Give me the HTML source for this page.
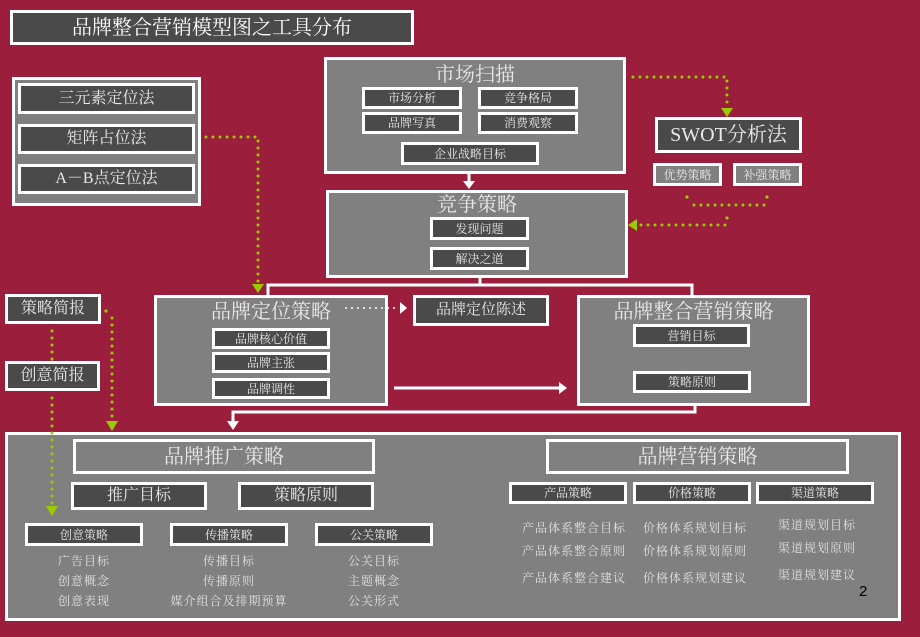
<!DOCTYPE html>
<html><head><meta charset="utf-8"><style>
*{margin:0;padding:0}
body{width:920px;height:637px;background:#9b1f3c;position:relative;overflow:hidden;font-family:"Liberation Serif","Noto Serif CJK SC","Noto Sans CJK SC",serif;}
.b{position:absolute;box-sizing:border-box;border:3px solid #fff;display:flex;align-items:center;justify-content:center;color:#e8e8e8;white-space:nowrap;line-height:1;}
.g{background:#808080}
.d{background:#4a4a4a}
.t{position:absolute;color:#e0e0e0;white-space:nowrap;font-size:12px;letter-spacing:1px}
.c{transform:translateX(-50%)}
.top{align-items:flex-start}
svg{position:absolute;left:0;top:0}
</style></head><body>
<div class="b d" style="left:10px;top:10px;width:404px;height:35px;font-size:20px;color:#fff">品牌整合营销模型图之工具分布</div>

<div class="b g" style="left:12px;top:77px;width:189px;height:129px"></div>
<div class="b d" style="left:18px;top:83px;width:177px;height:31px;font-size:16px">三元素定位法</div>
<div class="b d" style="left:18px;top:124px;width:177px;height:30px;font-size:16px">矩阵占位法</div>
<div class="b d" style="left:18px;top:164px;width:177px;height:30px;font-size:16px">A－B点定位法</div>

<div class="b g top" style="left:324px;top:57px;width:302px;height:117px;font-size:20px;padding-top:5px">市场扫描</div>
<div class="b d" style="left:362px;top:87px;width:100px;height:22px;font-size:12px">市场分析</div>
<div class="b d" style="left:478px;top:87px;width:100px;height:22px;font-size:12px">竞争格局</div>
<div class="b d" style="left:362px;top:112px;width:100px;height:22px;font-size:12px">品牌写真</div>
<div class="b d" style="left:478px;top:112px;width:100px;height:22px;font-size:12px">消费观察</div>
<div class="b d" style="left:401px;top:142px;width:138px;height:23px;font-size:12px">企业战略目标</div>

<div class="b g top" style="left:326px;top:190px;width:302px;height:88px;font-size:20px;padding-top:2px">竞争策略</div>
<div class="b d" style="left:430px;top:217px;width:99px;height:23px;font-size:12px">发现问题</div>
<div class="b d" style="left:430px;top:247px;width:99px;height:23px;font-size:12px">解决之道</div>

<div class="b d" style="left:655px;top:117px;width:147px;height:36px;font-size:20px">SWOT分析法</div>
<div class="b g" style="left:653px;top:163px;width:69px;height:23px;font-size:12px">优势策略</div>
<div class="b g" style="left:733px;top:163px;width:69px;height:23px;font-size:12px">补强策略</div>

<div class="b d" style="left:5px;top:294px;width:96px;height:30px;font-size:16px">策略简报</div>
<div class="b d" style="left:5px;top:361px;width:95px;height:30px;font-size:16px">创意简报</div>

<div class="b g top" style="left:154px;top:295px;width:234px;height:111px;font-size:20px;padding-top:4px">品牌定位策略</div>
<div class="b d" style="left:212px;top:328px;width:118px;height:21px;font-size:12px">品牌核心价值</div>
<div class="b d" style="left:212px;top:352px;width:118px;height:21px;font-size:12px">品牌主张</div>
<div class="b d" style="left:212px;top:378px;width:118px;height:21px;font-size:12px">品牌调性</div>

<div class="b d" style="left:413px;top:295px;width:136px;height:31px;font-size:15px">品牌定位陈述</div>

<div class="b g top" style="left:577px;top:295px;width:233px;height:111px;font-size:20px;padding-top:4px">品牌整合营销策略</div>
<div class="b d" style="left:633px;top:324px;width:117px;height:23px;font-size:12px">营销目标</div>
<div class="b d" style="left:633px;top:371px;width:118px;height:22px;font-size:12px">策略原则</div>

<div class="b g" style="left:5px;top:432px;width:896px;height:189px"></div>
<div class="b g" style="left:73px;top:439px;width:302px;height:35px;font-size:20px">品牌推广策略</div>
<div class="b d" style="left:71px;top:482px;width:136px;height:28px;font-size:16px">推广目标</div>
<div class="b d" style="left:238px;top:482px;width:136px;height:28px;font-size:16px">策略原则</div>
<div class="b d" style="left:25px;top:523px;width:118px;height:23px;font-size:12px">创意策略</div>
<div class="b d" style="left:170px;top:523px;width:118px;height:23px;font-size:12px">传播策略</div>
<div class="b d" style="left:315px;top:523px;width:118px;height:23px;font-size:12px">公关策略</div>
<div class="t c" style="left:84px;top:552px">广告目标</div>
<div class="t c" style="left:84px;top:572px">创意概念</div>
<div class="t c" style="left:84px;top:592px">创意表现</div>
<div class="t c" style="left:229px;top:552px">传播目标</div>
<div class="t c" style="left:229px;top:572px">传播原则</div>
<div class="t c" style="left:229px;top:592px">媒介组合及排期预算</div>
<div class="t c" style="left:374px;top:552px">公关目标</div>
<div class="t c" style="left:374px;top:572px">主题概念</div>
<div class="t c" style="left:374px;top:592px">公关形式</div>

<div class="b g" style="left:546px;top:439px;width:303px;height:35px;font-size:20px">品牌营销策略</div>
<div class="b d" style="left:509px;top:482px;width:118px;height:22px;font-size:12px">产品策略</div>
<div class="b d" style="left:633px;top:482px;width:118px;height:22px;font-size:12px">价格策略</div>
<div class="b d" style="left:756px;top:482px;width:118px;height:22px;font-size:12px">渠道策略</div>
<div class="t" style="left:522px;top:519px">产品体系整合目标</div>
<div class="t" style="left:522px;top:542px">产品体系整合原则</div>
<div class="t" style="left:522px;top:569px">产品体系整合建议</div>
<div class="t" style="left:643px;top:519px">价格体系规划目标</div>
<div class="t" style="left:643px;top:542px">价格体系规划原则</div>
<div class="t" style="left:643px;top:569px">价格体系规划建议</div>
<div class="t" style="left:778px;top:516px">渠道规划目标</div>
<div class="t" style="left:778px;top:539px">渠道规划原则</div>
<div class="t" style="left:778px;top:566px">渠道规划建议</div>
<div style="position:absolute;left:859px;top:583px;font-family:'Liberation Sans',sans-serif;font-size:15px;color:#000">2</div>

<svg width="920" height="637" viewBox="0 0 920 637">
<g fill="none" stroke="#99cc00" stroke-width="3" stroke-dasharray="0 7" stroke-linecap="round">
<path d="M633 77 H727 V108"/>
<path d="M694 205 H767"/>
<path d="M725 225 H640"/>
<path d="M206 137 H258 V283"/>
<path d="M52 331 V360"/>
<path d="M52 398 V508"/>
<path d="M112 318 V420"/>
</g>
<g fill="#99cc00">
<circle cx="687" cy="197" r="1.6"/><circle cx="767" cy="197" r="1.6"/><circle cx="727" cy="218" r="1.6"/><circle cx="106" cy="311" r="1.6"/>
<path d="M721 108 H733 L727 117Z"/>
<path d="M637 219 V231 L628 225Z"/>
<path d="M252 284 H264 L258 293Z"/>
<path d="M46 506 H58 L52 516Z"/>
<path d="M106 421 H118 L112 431Z"/>
</g>
<g stroke="#fff" stroke-width="3" fill="none">
<path d="M469 173 V182"/>
<path d="M480 277 V285 M268 295 V285 H692 V295"/>
<path d="M394 388 H560"/>
<path d="M695 406 V412 H233 V422"/>
</g>
<path d="M346 308 H400" stroke="#fff" stroke-width="2" stroke-dasharray="0 6" stroke-linecap="round"/>
<g fill="#fff">
<path d="M463 181 H475 L469 189Z"/>
<path d="M559 382 V394 L567 388Z"/>
<path d="M227 421 H239 L233 430Z"/>
<path d="M400 302 V314 L407 308Z"/>
</g>
</svg>
</body></html>
